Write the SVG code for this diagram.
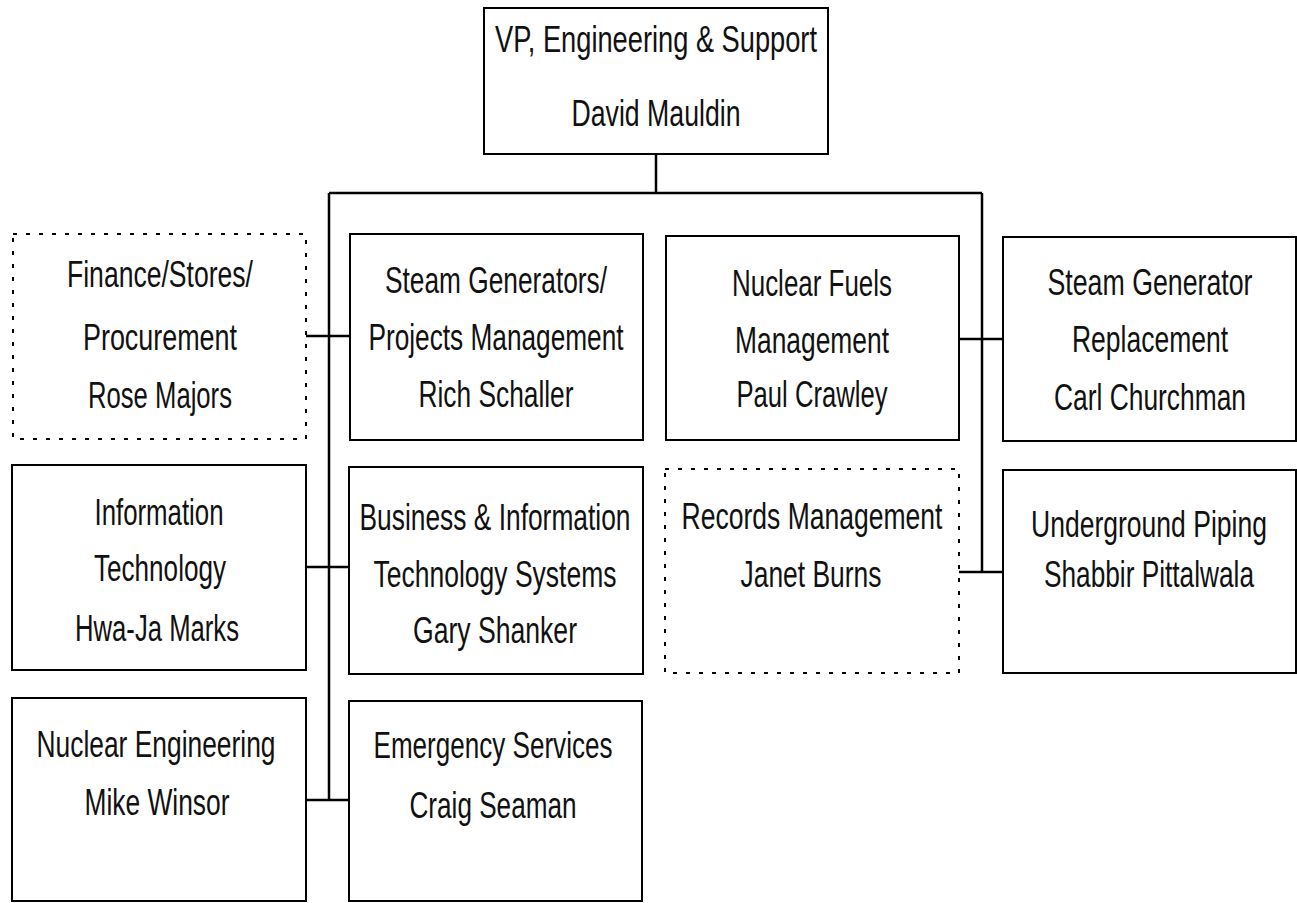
<svg xmlns="http://www.w3.org/2000/svg" width="1297" height="903" viewBox="0 0 1297 903">
<style>
.box{fill:#fff;stroke:#000;stroke-width:2}
.dot{fill:#fff;stroke:#000;stroke-width:2;stroke-dasharray:4 9}
.ln{stroke:#000;stroke-width:2.5;fill:none}
text{font-family:"Liberation Sans Narrow","Arial Narrow","Liberation Sans",sans-serif;font-size:37px;fill:#111;text-anchor:middle}
</style>
<rect width="1297" height="903" fill="#fff"/>
<g id="connectors">
<path class="ln" d="M656 154V193M329 193H982M329 193V800M982 193V572M306 336H350M306 567H350M306 800H350M959 339H1003M959 572H1003"/>
</g>
<g id="vp">
<rect class="box" x="484" y="8" width="344" height="146"/>
<text x="656" y="52" textLength="322" lengthAdjust="spacingAndGlyphs">VP, Engineering &amp; Support</text>
<text x="656" y="126" textLength="169" lengthAdjust="spacingAndGlyphs">David Mauldin</text>
</g>
<g id="finance">
<rect class="dot" x="13" y="234" width="293" height="205"/>
<text x="160" y="287" textLength="186" lengthAdjust="spacingAndGlyphs">Finance/Stores/</text>
<text x="160" y="350" textLength="154" lengthAdjust="spacingAndGlyphs">Procurement</text>
<text x="160" y="408" textLength="144" lengthAdjust="spacingAndGlyphs">Rose Majors</text>
</g>
<g id="steamgen">
<rect class="box" x="350" y="234" width="293" height="206"/>
<text x="496" y="293" textLength="222" lengthAdjust="spacingAndGlyphs">Steam Generators/</text>
<text x="496" y="350" textLength="255" lengthAdjust="spacingAndGlyphs">Projects Management</text>
<text x="496" y="407" textLength="155" lengthAdjust="spacingAndGlyphs">Rich Schaller</text>
</g>
<g id="fuels">
<rect class="box" x="666" y="236" width="293" height="204"/>
<text x="812" y="296" textLength="160" lengthAdjust="spacingAndGlyphs">Nuclear Fuels</text>
<text x="812" y="353" textLength="154" lengthAdjust="spacingAndGlyphs">Management</text>
<text x="812" y="407" textLength="151" lengthAdjust="spacingAndGlyphs">Paul Crawley</text>
</g>
<g id="sgr">
<rect class="box" x="1003" y="237" width="293" height="204"/>
<text x="1150" y="295" textLength="205" lengthAdjust="spacingAndGlyphs">Steam Generator</text>
<text x="1150" y="352" textLength="156" lengthAdjust="spacingAndGlyphs">Replacement</text>
<text x="1150" y="410" textLength="192" lengthAdjust="spacingAndGlyphs">Carl Churchman</text>
</g>
<g id="it">
<rect class="box" x="12" y="465" width="294" height="205"/>
<text x="159" y="525" textLength="129" lengthAdjust="spacingAndGlyphs">Information</text>
<text x="160" y="581" textLength="132" lengthAdjust="spacingAndGlyphs">Technology</text>
<text x="157" y="641" textLength="164" lengthAdjust="spacingAndGlyphs">Hwa-Ja Marks</text>
</g>
<g id="business">
<rect class="box" x="349" y="467" width="294" height="207"/>
<text x="495" y="530" textLength="271" lengthAdjust="spacingAndGlyphs">Business &amp; Information</text>
<text x="495" y="587" textLength="243" lengthAdjust="spacingAndGlyphs">Technology Systems</text>
<text x="495" y="643" textLength="164" lengthAdjust="spacingAndGlyphs">Gary Shanker</text>
</g>
<g id="records">
<rect class="dot" x="665" y="469" width="294" height="204"/>
<text x="812" y="529" textLength="261" lengthAdjust="spacingAndGlyphs">Records Management</text>
<text x="811" y="587" textLength="141" lengthAdjust="spacingAndGlyphs">Janet Burns</text>
</g>
<g id="piping">
<rect class="box" x="1003" y="470" width="293" height="203"/>
<text x="1149" y="537" textLength="236" lengthAdjust="spacingAndGlyphs">Underground Piping</text>
<text x="1149" y="587" textLength="210" lengthAdjust="spacingAndGlyphs">Shabbir Pittalwala</text>
</g>
<g id="nucleng">
<rect class="box" x="12" y="698" width="294" height="203"/>
<text x="156" y="757" textLength="239" lengthAdjust="spacingAndGlyphs">Nuclear Engineering</text>
<text x="157" y="815" textLength="145" lengthAdjust="spacingAndGlyphs">Mike Winsor</text>
</g>
<g id="emergency">
<rect class="box" x="349" y="701" width="293" height="200"/>
<text x="493" y="758" textLength="239" lengthAdjust="spacingAndGlyphs">Emergency Services</text>
<text x="493" y="818" textLength="167" lengthAdjust="spacingAndGlyphs">Craig Seaman</text>
</g>
</svg>
